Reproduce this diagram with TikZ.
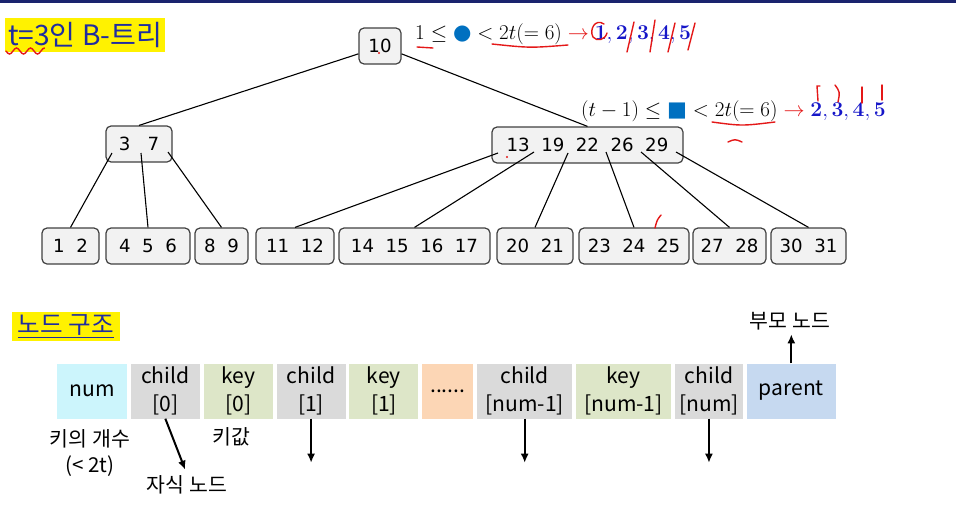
\RequirePackage{fix-cm}
\documentclass[tikz,border=0pt]{standalone}
\usepackage[no-math]{fontspec}
\setmainfont{Noto Sans CJK KR}
\newfontfamily\symfont{DejaVu Sans}
\usepackage{tikz}
\usetikzlibrary{arrows.meta,positioning}
\definecolor{nodefill}{RGB}{242,242,242}
\definecolor{nodeline}{RGB}{64,64,64}
\definecolor{numcol}{RGB}{204,245,252}
\definecolor{childcol}{RGB}{218,218,218}
\definecolor{keycol}{RGB}{221,230,200}
\definecolor{dotcol}{RGB}{252,214,181}
\definecolor{parcol}{RGB}{198,217,240}
\definecolor{titleblue}{RGB}{31,45,160}
\definecolor{markred}{RGB}{228,24,24}
\definecolor{numblue}{RGB}{22,22,200}
\definecolor{dotblue}{RGB}{0,112,192}
\definecolor{topbar}{RGB}{26,35,110}
\newcommand{\px}{0.03cm}
\newcommand{\cellgap}{0.102cm}
\newcommand{\keyfont}{\symfont\fontsize{15.5}{18}\selectfont}
\newcommand{\cellfont}{\fontsize{18}{24}\selectfont}
\newcommand{\notefont}{\fontsize{17.5}{22}\selectfont}
\newcommand{\mathsize}{\fontsize{18}{22}\selectfont}
\tikzset{
    keynode/.style = { draw=nodeline, fill=nodefill, rectangle,
        line width = 1.2*\px,
        rounded corners = 5*\px,
        inner sep = 0pt,
        minimum height = 36*\px,
        font = \keyfont
    },
    cell/.style = { fill=#1, rectangle, align=center,
        inner sep = 0pt,
        minimum height = 55*\px,
        font = \cellfont
    },
    title/.style = { fill=yellow, text=titleblue, inner sep=0pt },
    formula/.style = { anchor=west, inner sep=0pt, font=\mathsize },
    note/.style = { align=center, inner sep=1pt, font=\notefont },
    branch/.style = { draw, line width = 1.1*\px },
    ptr/.style = { -{Latex[length=9*\px, width=8*\px]}, line width = 2*\px },
    redmark/.style = { draw=markred, line width = 1.4*\px, line cap=round }
}

\begin{document}
\begin{tikzpicture}[x=\px, y=-\px]
        \useasboundingbox (0,0) rectangle (956,504);
        \fill[topbar] (0,0) rectangle (956,3);

        % titles...
        \node[title, font=\fontsize{24}{27}\selectfont, minimum width=160*\px, minimum height=34*\px] (ttl) at (85,35) {t=3인 B-트리};
        \node[title, font=\fontsize{21}{24}\selectfont, minimum width=108*\px, minimum height=29*\px] (ttl2) at (66,326.5) {\underline{노드 구조}};

        % root and inner nodes...
        \node[keynode, minimum width=42*\px] (n10) at (380,46) {10};
        \node[keynode, minimum width=66*\px] (n37) at (139,144) {3\ \ \ 7};
        \node[keynode, minimum width=191*\px] (n13) at (587.5,145) {13\ \ 19\ \ 22\ \ 26\ \ 29};

        % leaves...
        \node[keynode, minimum width=57*\px] (l12) at (70.5,246) {1\ \ 2};
        \node[keynode, minimum width=84*\px] (l456) at (148,246) {4\ \ 5\ \ 6};
        \node[keynode, minimum width=53*\px] (l89) at (221.5,246) {8\ \ 9};
        \node[keynode, minimum width=78*\px] (l1112) at (295,246) {11\ \ 12};
        \node[keynode, minimum width=151*\px] (l1417) at (414.5,246) {14\ \ 15\ \ 16\ \ 17};
        \node[keynode, minimum width=76*\px] (l2021) at (535,246) {20\ \ 21};
        \node[keynode, minimum width=110*\px] (l2325) at (634,246) {23\ \ 24\ \ 25};
        \node[keynode, minimum width=73*\px] (l2728) at (729.5,246) {27\ \ 28};
        \node[keynode, minimum width=75*\px] (l3031) at (808.5,246) {30\ \ 31};

        \path[branch] (n10.200) -- (n37.north);
        \path[branch] (n10.-20) -- (n13.north);
        \path[branch] ([shift={(-27,9)}]n37.center) -- (l12.north);
        \path[branch] ([shift={(2,9)}]n37.center) -- (l456.north);
        \path[branch] ([shift={(29,8)}]n37.center) -- (l89.north);
        \path[branch] ([shift={(-89.5,8)}]n13.center) -- (l1112.north);
        \path[branch] ([shift={(-53.5,7)}]n13.center) -- (l1417.north);
        \path[branch] ([shift={(-19.5,8)}]n13.center) -- (l2021.north);
        \path[branch] ([shift={(18.5,7)}]n13.center) -- (l2325.north);
        \path[branch] ([shift={(53.5,7)}]n13.center) -- (l2728.north);
        \path[branch] ([shift={(88.5,7)}]n13.center) -- (l3031.north);

        % key count rules...
        \node[formula] (f1) at (415,34) {$1 \le \mbox{\color{dotblue}\symfont ●} < 2t(= 6) \mathrel{\color{markred}\rightarrow} {\color{numblue}\mathbf{1, 2, 3, 4, 5}}$};
        \node[formula] (f2) at (581,111) {$(t - 1) \le \mbox{\color{dotblue}\symfont ■} < 2t(= 6) \mathrel{\color{markred}\rightarrow} {\color{numblue}\mathbf{2, 3, 4, 5}}$};

        % red pen marks...
        \draw[redmark] (6,51) sin (9.5,54) cos (13,51) sin (16.5,48) cos (20,51) sin (23.5,54) cos (27,51) sin (30.5,48) cos (34,51) sin (37.5,54) cos (41,51) sin (44.5,48);
        \draw[redmark] (417,47) -- (433,48);
        \draw[redmark] (492,44) .. controls (530,48) .. (568,45);
        \draw[redmark] (604,24) .. controls (595,18) and (589,30) .. (593,37) .. controls (597,42) and (605,40) .. (607,33);
        \draw[redmark] (627,52) -- (634,22);
        \draw[redmark] (650,52) -- (655,20);
        \draw[redmark] (668,52) -- (675,23);
        \draw[redmark] (688,50) -- (695,23);
        \draw[redmark] (712,122) .. controls (742,126) .. (775,122);
        \draw[redmark] (728,142) .. controls (735,139) .. (742,142);
        \draw[redmark] (820,86) -- (817,86) -- (818,101);
        \draw[redmark] (835,85) .. controls (840,92) .. (838,102);
        \draw[redmark] (862,87) -- (862,103);
        \draw[redmark] (882,85) -- (882,100);
        \draw[redmark] (655,228) .. controls (657,220) .. (661,215);
        \fill[markred] (379,53) circle (1.2);
        \fill[markred] (507,157) circle (1.2);

        % node layout...
        \node[cell=numcol, minimum width=70*\px] (num) at (92,391) {num};
        \node[cell=childcol, minimum width=69*\px, right=\cellgap of num] (ch0) {child\\{[0]}};
        \node[cell=keycol, minimum width=69*\px, right=\cellgap of ch0] (key0) {key\\{[0]}};
        \node[cell=childcol, minimum width=69*\px, right=\cellgap of key0] (ch1) {child\\{[1]}};
        \node[cell=keycol, minimum width=69*\px, right=\cellgap of ch1] (key1) {key\\{[1]}};
        \node[cell=dotcol, minimum width=51*\px, right=\cellgap of key1] (dots) {......};
        \node[cell=childcol, minimum width=95*\px, right=\cellgap of dots] (chn1) {child\\{[num-1]}};
        \node[cell=keycol, minimum width=95*\px, right=\cellgap of chn1] (keyn1) {key\\{[num-1]}};
        \node[cell=childcol, minimum width=68*\px, right=\cellgap of keyn1] (chn) {child\\{[num]}};
        \node[cell=parcol, minimum width=89*\px, right=\cellgap of chn] (par) {parent};

        \node[note] (cnt) at (90,453) {키의 개수\\(< 2t)};
        \node[note] (kval) at (231,437) {키값};
        \node[note] (sub) at (187,485) {자식 노드};
        \node[note] (up) at (790,321) {부모 노드};

        \draw[ptr, shorten >=5*\px] (ch0.south) -- (sub.north);
        \draw[ptr] (ch1.south) -- ++(0,44);
        \draw[ptr] (chn1.south) -- ++(0,44);
        \draw[ptr] (chn.south) -- ++(0,44);
        \draw[ptr, shorten >=3*\px] (par.north) -- (par.north |- up.south);
\end{tikzpicture}
\end{document}
